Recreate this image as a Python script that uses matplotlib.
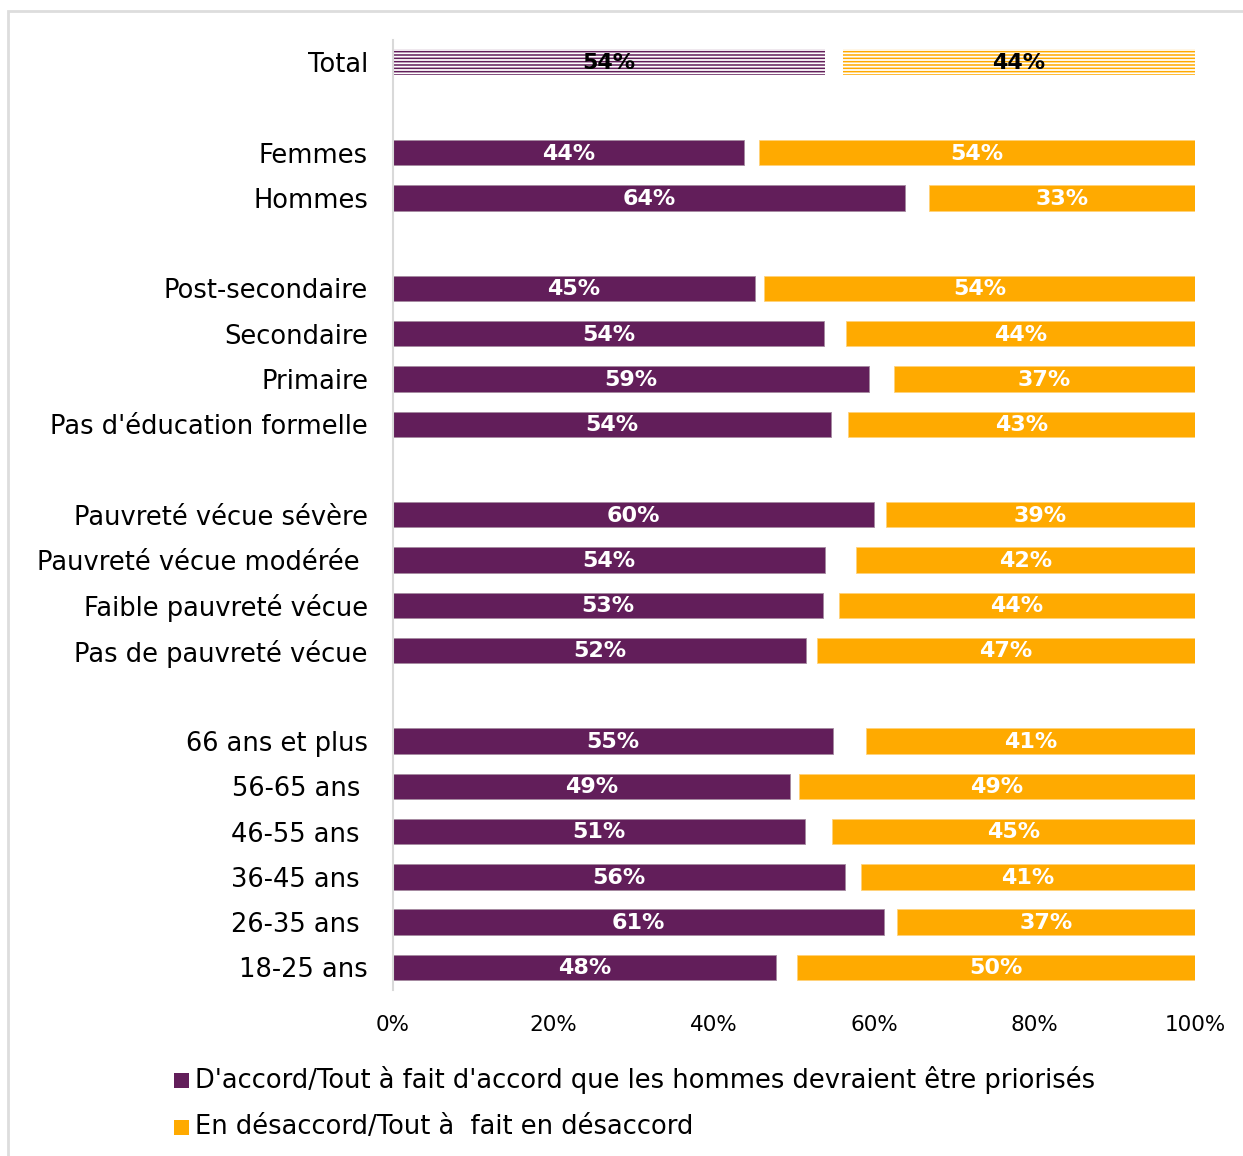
import matplotlib
matplotlib.use("Agg")
import matplotlib.pyplot as plt
from matplotlib.patches import Rectangle

categories = ["Total", "", "Femmes", "Hommes", "", "Post-secondaire", "Secondaire", "Primaire",
              "Pas d'éducation formelle", "", "Pauvreté vécue sévère", "Pauvreté vécue modérée ",
              "Faible pauvreté vécue", "Pas de pauvreté vécue", "", "66 ans et plus", "56-65 ans ",
              "46-55 ans ", "36-45 ans ", "26-35 ans ", "18-25 ans"]
agree = [53.9, None, 43.8, 63.8, None, 45.1, 53.7, 59.4, 54.6, None, 60.0, 53.9, 53.6, 51.5, None,
         54.9, 49.5, 51.4, 56.4, 61.2, 47.8]
disagree = [43.9, None, 54.4, 33.2, None, 53.7, 43.5, 37.5, 43.3, None, 38.5, 42.3, 44.4, 47.1, None,
            41.0, 49.4, 45.3, 41.6, 37.2, 49.6]
agree_labels = ["54%", "", "44%", "64%", "", "45%", "54%", "59%", "54%", "", "60%", "54%", "53%", "52%", "",
                "55%", "49%", "51%", "56%", "61%", "48%"]
disagree_labels = ["44%", "", "54%", "33%", "", "54%", "44%", "37%", "43%", "", "39%", "42%", "44%", "47%", "",
                   "41%", "49%", "45%", "41%", "37%", "50%"]
legend_labels = ["D'accord/Tout à fait d'accord que les hommes devraient être priorisés",
                 "En désaccord/Tout à  fait en désaccord"]
xticks = [0, 20, 40, 60, 80, 100]

PURPLE = "#621E5A"
ORANGE = "#FFAA00"
FONT = "DejaVu Sans"
plt.rcParams['hatch.linewidth'] = 1.1

fig = plt.figure(figsize=(12.43, 11.56), dpi=100)
W, H = 1243, 1156
# outer frame
fig.patches.append(Rectangle((8 / W, -0.1), 1.2, (H - 11) / H + 0.1, transform=fig.transFigure,
                             fill=False, edgecolor="#dddddd", linewidth=2))

ax = fig.add_axes([393 / W, 1 - 990 / H, (1195 - 393) / W, (990 - 39.5) / H])
n = len(categories)
ax.set_ylim(n - 0.5, -0.5)
ax.set_xlim(0, 100)
bh = 0.56
for i in range(n):
    a, d = agree[i], disagree[i]
    if a is None:
        continue
    if i == 0:
        ax.barh(i, a, left=0, height=bh, color="white", edgecolor=PURPLE, hatch="-----", linewidth=0)
        ax.barh(i, d, left=100 - d, height=bh, color="white", edgecolor=ORANGE, hatch="-----", linewidth=0)
        tc = "black"
    else:
        ax.barh(i, a, left=0, height=bh, color=PURPLE, edgecolor="#a58aa0", linewidth=0.6)
        ax.barh(i, d, left=100 - d, height=bh, color=ORANGE, edgecolor="#ffd27a", linewidth=0.6)
        tc = "white"
    ax.text(a / 2, i + 0.02, agree_labels[i], ha="center", va="center", color=tc, fontsize=16,
            fontweight="bold", family=FONT)
    ax.text(100 - d / 2, i + 0.02, disagree_labels[i], ha="center", va="center", color=tc, fontsize=16,
            fontweight="bold", family=FONT)

ax.set_yticks(range(n))
ax.set_yticklabels(categories, fontsize=18.5, family=FONT)
ax.set_xticks(xticks)
ax.set_xticklabels([f"{t}%" for t in xticks], fontsize=15.5, family=FONT)
ax.tick_params(axis="y", length=0, pad=18)
ax.tick_params(axis="x", length=0, pad=18)
for s in ["top", "right", "bottom"]:
    ax.spines[s].set_visible(False)
ax.spines["left"].set_color("#d9d9d9")
ax.spines["left"].set_linewidth(1.5)

# legend
for k, (lab, col) in enumerate(zip(legend_labels, [PURPLE, ORANGE])):
    yc = 1080 + 47 * k
    fig.patches.append(Rectangle((174 / W, 1 - (yc + 8) / H), 15 / W, 15 / H, transform=fig.transFigure,
                                 facecolor=col, edgecolor="none"))
    fig.text(195 / W, 1 - yc / H, lab, fontsize=18.5, family=FONT, va="center", ha="left")

fig.savefig("out.png", dpi=100)
